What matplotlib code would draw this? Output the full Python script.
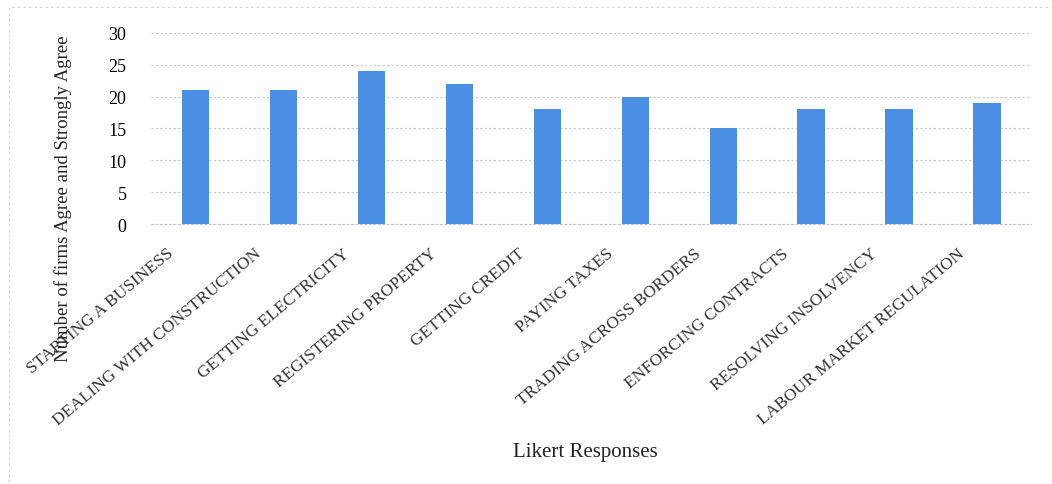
import matplotlib.pyplot as plt
from matplotlib.patches import Rectangle
from matplotlib.transforms import ScaledTranslation

# Data
categories = [
    "STARTING A BUSINESS",
    "DEALING WITH CONSTRUCTION",
    "GETTING ELECTRICITY",
    "REGISTERING PROPERTY",
    "GETTING CREDIT",
    "PAYING TAXES",
    "TRADING ACROSS BORDERS",
    "ENFORCING CONTRACTS",
    "RESOLVING INSOLVENCY",
    "LABOUR MARKET REGULATION",
]
agree_counts = [21, 21, 24, 22, 18, 20, 15, 18, 18, 19]
y_ticks = [0, 5, 10, 15, 20, 25, 30]

BAR_COLOR = "#4a8fe3"
GRID_COLOR = "#c8c8c8"

plt.rcParams["font.family"] = ["Liberation Serif", "DejaVu Serif"]

fig = plt.figure(figsize=(10.52, 4.85), dpi=100)
ax = fig.add_axes([0.144, 0.536, 0.836, 0.394])

x = list(range(len(categories)))
ax.bar(x, agree_counts, width=0.31, color=BAR_COLOR, zorder=3)

ax.set_xlim(-0.5, len(categories) - 0.5)
ax.set_ylim(0, 30)
ax.set_yticks(y_ticks)
ax.tick_params(axis="y", length=0, pad=18, labelsize=13)
ax.tick_params(axis="x", length=0, pad=0)
ax.set_xticks(x)
labels = ax.set_xticklabels(categories, rotation=40, ha="right", va="center",
                            rotation_mode="anchor", fontsize=12.5, color="#333333")
# shift labels so their ends sit down-left of each bar, as in the original
offset = ScaledTranslation(-0.24, -0.27, fig.dpi_scale_trans)
for lab in labels:
    lab.set_transform(lab.get_transform() + offset)

ax.yaxis.grid(True, color=GRID_COLOR, linestyle=(0, (2, 2)), linewidth=0.8, zorder=0)
for side in ["top", "right", "left"]:
    ax.spines[side].set_visible(False)
ax.spines["bottom"].set_color(GRID_COLOR)
ax.spines["bottom"].set_linestyle((0, (2, 2)))
ax.spines["bottom"].set_linewidth(0.8)

fig.text(0.06, 0.59, "Number of firms Agree and Strongly Agree", rotation=90,
         ha="center", va="center", fontsize=13.5, color="#222222")
fig.text(0.556, 0.066, "Likert Responses", ha="center", va="center",
         fontsize=15, color="#222222")

# faint frame around the chart, like the scanned original
fig.patches.append(Rectangle((0.009, -0.02), 1.2, 1.003, transform=fig.transFigure,
                             fill=False, edgecolor="#d0d0d0", linestyle=(0, (2, 3)),
                             linewidth=0.8))

fig.savefig("out.png", dpi=100)
